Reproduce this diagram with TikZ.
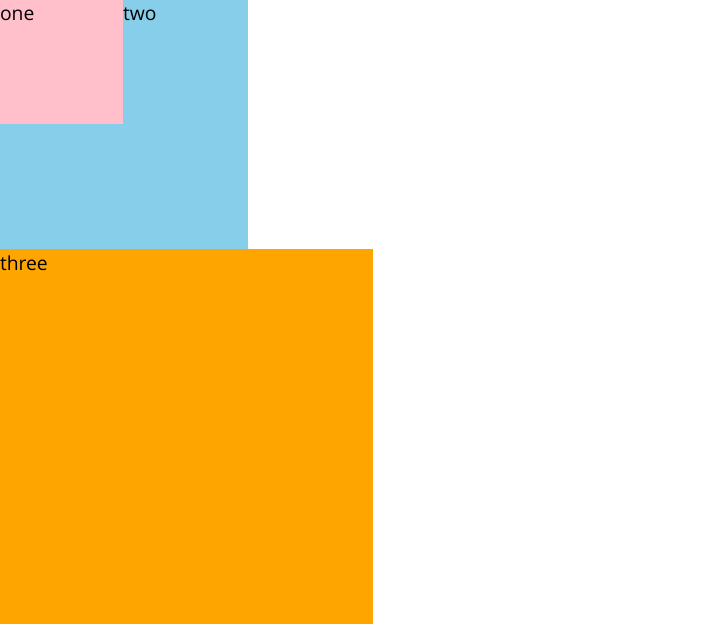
\documentclass[tikz,border=0pt]{standalone}
\usepackage{fontspec}
\setmainfont{Open Sans}
\definecolor{boxpink}{HTML}{FFC0CB}
\definecolor{boxblue}{HTML}{87CEEB}
\definecolor{boxorange}{HTML}{FFA500}
\begin{document}
\begin{tikzpicture}[x=1pt,y=-1pt,
  box/.style={draw=none,inner sep=0pt,outer sep=0pt,anchor=north west},
  lbl/.style={inner sep=0pt,outer sep=0pt,anchor=base west,font=\fontsize{19.3}{23}\selectfont,text=black}]
\fill[white] (0,0) rectangle (724,638);
\useasboundingbox (0,0) rectangle (724,638);
\node[box,fill=boxblue,minimum width=248pt,minimum height=249pt] (two) at (0,0) {};
\node[box,fill=boxpink,minimum width=123pt,minimum height=124pt] (one) at (0,0) {};
\node[box,fill=boxorange,minimum width=373pt,minimum height=375pt] (three) at (0,249) {};
\node[lbl] (tone) at ([yshift=-20pt]one.north west) {one};
\node[lbl] (ttwo) at ([yshift=-20pt]one.north east) {two};
\node[lbl] (tthree) at ([yshift=-21pt]three.north west) {three};
\end{tikzpicture}
\end{document}
